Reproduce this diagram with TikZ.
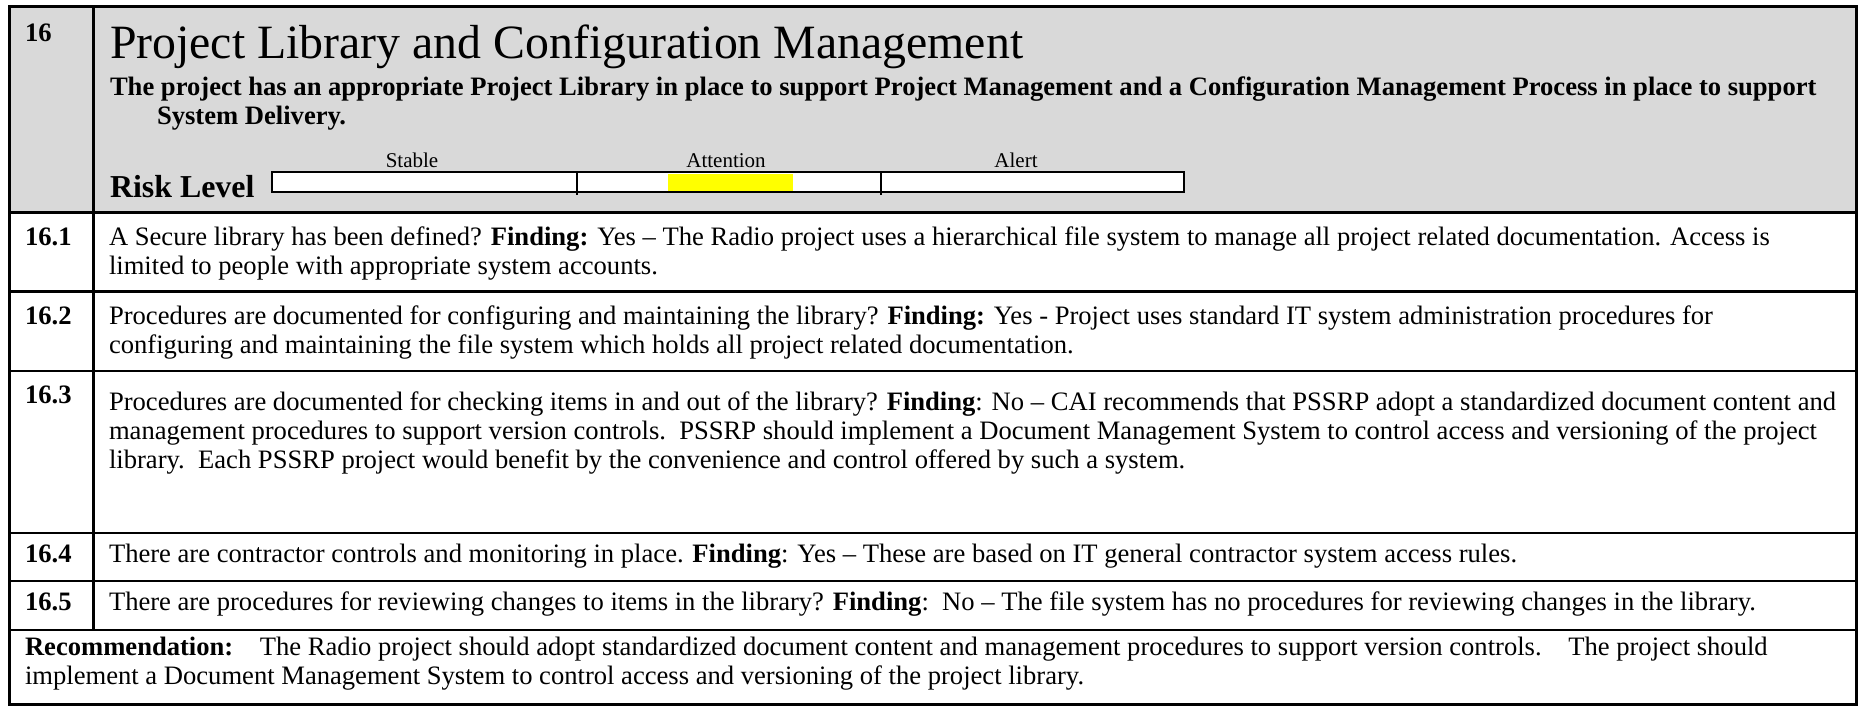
\documentclass[tikz,border=0pt]{standalone}
\usepackage{fontspec}
\setmainfont{Liberation Serif}
\definecolor{hdrgray}{HTML}{D9D9D9}
\definecolor{riskyellow}{HTML}{FFFF00}
\tikzset{
  tl/.style={anchor=base west, inner sep=0pt, outer sep=0pt},
  tc/.style={anchor=base, inner sep=0pt, outer sep=0pt},
  bodyf/.style={font=\fontsize{26.6}{29}\selectfont},
  labf/.style={font=\fontsize{26.6}{29}\selectfont\bfseries},
  titlef/.style={font=\fontsize{47.8}{52}\selectfont},
  subf/.style={font=\fontsize{26.6}{29}\selectfont\bfseries},
  riskf/.style={font=\fontsize{31.9}{35}\selectfont\bfseries},
  smallf/.style={font=\fontsize{21}{23}\selectfont},
  gridline/.style={line width=2.7pt, black},
}
\begin{document}
\begin{tikzpicture}[x=1pt,y=-1pt]
\useasboundingbox (0,0) rectangle (1864,707);
% header background
\fill[hdrgray] (9.5,6.5) rectangle (1856.5,212.7);
% risk bar
\fill[white] (272,172) rectangle (1184,192);
\fill[riskyellow] (668,173.5) rectangle (793,190.5);
\draw[line width=2.6pt] (272,172) rectangle (1184,192);
\draw[line width=2.4pt] (577,172) -- (577,195);
\draw[line width=2.4pt] (881,172) -- (881,195);
% grid
\draw[gridline] (9.5,6.5) rectangle (1856.5,704.5);
\draw[gridline] (93.5,6.5) -- (93.5,630);
\foreach \yy in {212.7,291.7,371,533,581,630}
  \draw[gridline] (9.5,\yy) -- (1856.5,\yy);
% header texts
\node[tl,labf] (n16) at (25,41) {16};
\node[tl,titlef] (title) at (110,58) {Project Library and Configuration Management};
\node[tl,subf] (sub1) at (110,95) {The project has an appropriate Project Library in place to support Project Management and a Configuration Management Process in place to support};
\node[tl,subf] (sub2) at (157,124) {System Delivery.};
\node[tc,smallf] (stable) at (412,167) {Stable};
\node[tc,smallf] (attention) at (726,167) {Attention};
\node[tc,smallf] (alert) at (1016,167) {Alert};
\node[tl,riskf] (risk) at (110,197) {Risk Level};
% row 16.1
\node[tl,labf] (l161) at (25,245) {16.1};
\node[tl,bodyf] (t161a) at (109,245) {A Secure library has been defined? \textbf{Finding:} Yes – The Radio project uses a hierarchical file system to manage all project related documentation. Access is};
\node[tl,bodyf] (t161b) at (109,274) {limited to people with appropriate system accounts.};
% row 16.2
\node[tl,labf] (l162) at (25,324) {16.2};
\node[tl,bodyf] (t162a) at (109,324) {Procedures are documented for configuring and maintaining the library? \textbf{Finding:} Yes - Project uses standard IT system administration procedures for};
\node[tl,bodyf] (t162b) at (109,353) {configuring and maintaining the file system which holds all project related documentation.};
% row 16.3
\node[tl,labf] (l163) at (25,403) {16.3};
\node[tl,bodyf] (t163a) at (109,410) {Procedures are documented for checking items in and out of the library? \textbf{Finding}: No – CAI recommends that PSSRP adopt a standardized document content and};
\node[tl,bodyf] (t163b) at (109,439) {management procedures to support version controls.\ \ PSSRP should implement a Document Management System to control access and versioning of the project};
\node[tl,bodyf] (t163c) at (109,468) {library.\ \ Each PSSRP project would benefit by the convenience and control offered by such a system.};
% row 16.4
\node[tl,labf] (l164) at (25,562) {16.4};
\node[tl,bodyf] (t164) at (109,562) {There are contractor controls and monitoring in place. \textbf{Finding}: Yes – These are based on IT general contractor system access rules.};
% row 16.5
\node[tl,labf] (l165) at (25,610) {16.5};
\node[tl,bodyf] (t165) at (109,610) {There are procedures for reviewing changes to items in the library? \textbf{Finding}:\ \ No – The file system has no procedures for reviewing changes in the library.};
% recommendation
\node[tl,bodyf] (rec1) at (25,655) {\textbf{Recommendation:}\ \ \ \ The Radio project should adopt standardized document content and management procedures to support version controls.\ \ \ \ The project should};
\node[tl,bodyf] (rec2) at (25,684) {implement a Document Management System to control access and versioning of the project library.};
\end{tikzpicture}
\end{document}
